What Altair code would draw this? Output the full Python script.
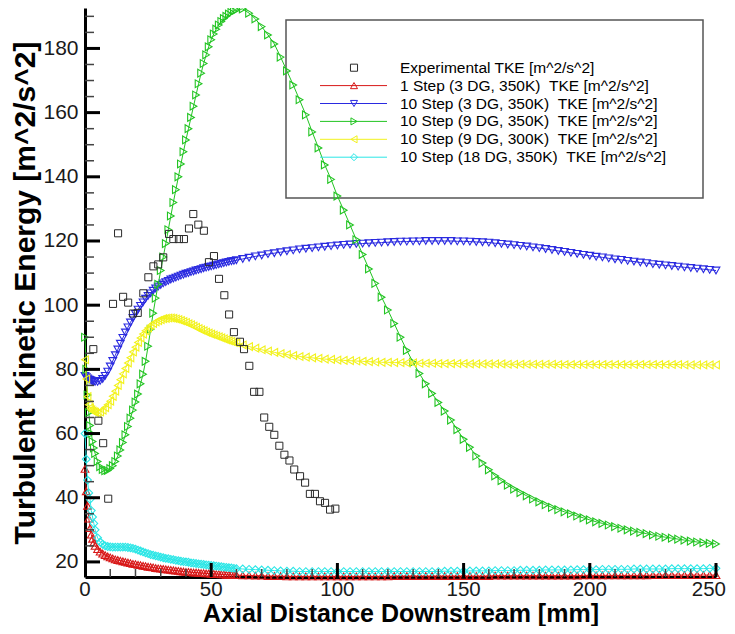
import altair as alt
import pandas as pd

# ---------------- data ----------------
X = [0, 0.5, 1, 1.5, 2, 2.5, 3, 3.5, 4,
     5, 6, 7, 8, 9, 10, 11, 12, 13, 14, 15, 16, 17, 18, 19, 20, 21, 22, 23, 24,
     25, 26, 27, 28, 29, 30, 31, 32, 33, 34, 35, 36, 37, 38, 39, 40, 41, 42, 43, 44,
     45, 46, 47, 48, 49, 50, 51, 52, 53, 54, 55, 56, 57, 58, 59, 60,
     62.5, 65, 67.5, 70, 72.5, 75, 77.5, 80, 82.5, 85, 87.5, 90, 92.5, 95, 97.5, 100,
     102.5, 105, 107.5, 110, 112.5, 115, 117.5, 120, 122.5, 125, 127.5, 130, 132.5, 135,
     137.5, 140, 142.5, 145, 147.5, 150, 152.5, 155, 157.5, 160, 162.5, 165, 167.5, 170,
     172.5, 175, 177.5, 180, 182.5, 185, 187.5, 190, 192.5, 195, 197.5, 200, 202.5, 205,
     207.5, 210, 212.5, 215, 217.5, 220, 222.5, 225, 227.5, 230, 232.5, 235, 237.5, 240,
     242.5, 245, 247.5, 250]

STEP1_3DG_350 = [49.0, 42.0, 37.5, 33.5, 30.5, 28.5, 27.2, 26.0, 25.0,
    24.0, 23.2, 22.6, 22.1, 21.7, 21.4, 21.1, 20.8, 20.6, 20.4,
    20.2, 20.0, 19.8, 19.6, 19.4, 19.3, 19.1, 19.0, 18.8, 18.7,
    18.5, 18.4, 18.3, 18.1, 18.0, 17.9, 17.8, 17.7, 17.6, 17.5,
    17.4, 17.3, 17.2, 17.1, 17.0, 16.9, 16.9, 16.8, 16.7, 16.7,
    16.6, 16.5, 16.5, 16.4, 16.4, 16.3, 16.3, 16.2, 16.2, 16.1,
    16.1, 16.0, 16.0, 16.0, 15.9, 15.9,
    15.8, 15.8, 15.7, 15.7, 15.6, 15.6, 15.6, 15.5, 15.5, 15.5,
    15.5, 15.5, 15.5, 15.5, 15.5, 15.5, 15.5, 15.5, 15.5, 15.5,
    15.5, 15.5, 15.5, 15.5, 15.6, 15.6, 15.6, 15.6, 15.6, 15.6,
    15.6, 15.6, 15.6, 15.6, 15.6, 15.6, 15.6, 15.6, 15.6, 15.6,
    15.7, 15.7, 15.7, 15.7, 15.7, 15.7, 15.7, 15.7, 15.7, 15.7,
    15.7, 15.7, 15.7, 15.7, 15.8, 15.8, 15.8, 15.8, 15.8, 15.8,
    15.8, 15.8, 15.8, 15.8, 15.8, 15.9, 15.9, 15.9, 15.9, 15.9,
    15.9, 15.9, 15.9, 15.9, 15.9, 15.9]

STEP10_3DG_350 = [78.0, 77.6, 77.2, 76.9, 76.7, 76.5, 76.3, 76.2, 76.1,
    76.1, 76.4, 77.0, 78.0, 79.3, 80.9, 82.6, 84.4, 86.2, 88.0,
    89.8, 91.5, 93.1, 94.6, 96.0, 97.3, 98.6, 99.8, 100.9, 102.0,
    102.9, 103.7, 104.5, 105.2, 105.8, 106.3, 106.8, 107.2, 107.6, 108.0,
    108.3, 108.6, 108.9, 109.2, 109.5, 109.8, 110.0, 110.3, 110.5, 110.8,
    111.0, 111.2, 111.5, 111.7, 111.9, 112.1, 112.3, 112.5, 112.7, 112.9,
    113.1, 113.3, 113.5, 113.7, 113.8, 114.0,
    114.4, 114.8, 115.2, 115.5, 115.9, 116.2, 116.5, 116.8, 117.1, 117.4,
    117.6, 117.8, 118.0, 118.2, 118.4, 118.6, 118.8, 118.9, 119.1, 119.2,
    119.3, 119.4, 119.5, 119.6, 119.7, 119.8, 119.8, 119.9, 119.9, 120.0,
    120.0, 120.0, 120.0, 120.0, 119.9, 119.9, 119.8, 119.7, 119.6, 119.5,
    119.3, 119.1, 118.9, 118.7, 118.5, 118.3, 118.0, 117.8, 117.5, 117.2,
    116.9, 116.6, 116.3, 116.0, 115.7, 115.4, 115.1, 114.9, 114.6, 114.3,
    114.1, 113.8, 113.6, 113.3, 113.1, 112.8, 112.6, 112.4, 112.2, 112.0,
    111.8, 111.6, 111.4, 111.2, 111.0, 110.8]

STEP10_9DG_350 = [90.0, 80.0, 72.0, 66.5, 62.5, 60.0, 57.5, 55.5, 53.8,
    51.3, 49.7, 48.8, 48.4, 48.5, 49.1, 50.0, 51.3, 53.0, 54.9,
    57.2, 59.6, 62.2, 64.8, 67.3, 69.8, 72.3, 75.5, 78.5, 82.5,
    87.2, 92.5, 97.5, 102.2, 106.5, 110.8, 115.0, 119.2, 123.5, 127.8,
    132.0, 136.0, 140.0, 144.0, 147.8, 151.5, 155.0, 158.5, 162.0, 165.5,
    169.0, 172.3, 175.3, 178.0, 180.5, 182.7, 184.5, 186.0, 187.3, 188.4,
    189.3, 190.0, 190.7, 191.2, 191.7, 192.0,
    192.3, 191.0, 189.2, 186.8, 184.2, 181.4, 177.3, 173.0, 168.6, 164.0,
    159.3, 154.0, 149.0, 143.7, 139.2, 134.0, 129.6, 125.0, 120.4, 115.8,
    111.3, 106.8, 102.5, 98.5, 94.3, 90.0, 85.9, 82.2, 78.7, 75.5,
    72.5, 69.7, 67.0, 64.2, 61.2, 58.2, 55.7, 53.0, 50.8, 48.7,
    46.8, 45.3, 43.9, 42.7, 41.6, 40.6, 39.6, 38.7, 37.8, 37.0,
    36.3, 35.6, 35.0, 34.3, 33.7, 33.1, 32.5, 32.0, 31.5, 31.0,
    30.5, 30.0, 29.6, 29.2, 28.8, 28.4, 28.0, 27.7, 27.4, 27.1,
    26.8, 26.5, 26.2, 26.0, 25.8, 25.6]

STEP10_9DG_300 = [83.0, 77.0, 71.5, 69.0, 68.0, 67.4, 67.0, 66.8, 66.6,
    66.5, 66.7, 67.3, 68.1, 69.0, 70.1, 71.6, 73.2, 75.0, 76.8,
    78.6, 80.3, 82.0, 83.6, 85.4, 86.9, 88.4, 89.8, 91.0, 92.0,
    92.9, 93.7, 94.3, 94.8, 95.2, 95.5, 95.8, 95.9, 96.0, 96.0,
    95.9, 95.7, 95.5, 95.2, 94.9, 94.6, 94.2, 93.9, 93.5, 93.1,
    92.7, 92.3, 92.0, 91.6, 91.3, 91.0, 90.7, 90.4, 90.1, 89.8,
    89.5, 89.2, 88.9, 88.7, 88.4, 88.2,
    87.6, 87.1, 86.6, 86.1, 85.7, 85.3, 84.9, 84.6, 84.3, 84.0,
    83.8, 83.6, 83.4, 83.2, 83.1, 82.9, 82.8, 82.7, 82.6, 82.5,
    82.4, 82.3, 82.2, 82.2, 82.1, 82.1, 82.0, 82.0, 81.9, 81.9,
    81.9, 81.8, 81.8, 81.8, 81.8, 81.8, 81.7, 81.7, 81.7, 81.7,
    81.7, 81.7, 81.6, 81.6, 81.6, 81.6, 81.6, 81.6, 81.6, 81.6,
    81.5, 81.5, 81.5, 81.5, 81.5, 81.5, 81.5, 81.5, 81.5, 81.5,
    81.5, 81.5, 81.5, 81.5, 81.5, 81.5, 81.5, 81.5, 81.5, 81.5,
    81.4, 81.4, 81.4, 81.4, 81.4, 81.4]

STEP10_18DG_350 = [60.0, 52.0, 45.5, 41.5, 39.5, 36.0, 34.0, 32.0, 30.0,
    27.5, 26.2, 25.5, 25.0, 24.8, 24.7, 24.6, 24.6, 24.6, 24.6,
    24.6, 24.6, 24.5, 24.4, 24.2, 24.0, 23.7, 23.4, 23.1, 22.8,
    22.6, 22.3, 22.1, 21.9, 21.7, 21.5, 21.3, 21.1, 21.0, 20.8,
    20.7, 20.5, 20.4, 20.2, 20.1, 20.0, 19.9, 19.7, 19.6, 19.5,
    19.4, 19.3, 19.2, 19.1, 19.0, 18.9, 18.8, 18.7, 18.6, 18.5,
    18.4, 18.3, 18.2, 18.1, 18.0, 17.9,
    17.8, 17.7, 17.6, 17.5, 17.4, 17.3, 17.2, 17.1, 17.1, 17.0,
    17.0, 17.0, 17.0, 17.0, 17.0, 17.0, 17.0, 17.0, 17.0, 17.0,
    17.0, 17.0, 17.0, 17.0, 17.0, 17.0, 17.0, 17.0, 17.0, 17.0,
    17.0, 17.0, 17.1, 17.1, 17.1, 17.1, 17.2, 17.2, 17.2, 17.2,
    17.3, 17.3, 17.3, 17.3, 17.4, 17.4, 17.4, 17.4, 17.5, 17.5,
    17.5, 17.5, 17.5, 17.6, 17.6, 17.6, 17.6, 17.7, 17.7, 17.7,
    17.7, 17.7, 17.8, 17.8, 17.8, 17.8, 17.8, 17.8, 17.9, 17.9,
    17.9, 17.9, 17.9, 17.9, 18.0, 18.0]

EXP_X = [3.3, 5.3, 7.2, 9.2, 11.1, 13.1, 15.1, 17.1, 19.0, 20.9, 23.1, 25.1, 27.1,
         29.0, 31.0, 33.3, 35.0, 37.2, 39.2, 41.2, 42.9, 44.9, 47.1, 49.1, 51.1,
         53.1, 55.2, 57.1, 59.0, 61.4, 63.0, 65.1, 67.0, 69.1, 71.0, 73.0, 75.0,
         77.0, 79.0, 81.0, 82.9, 85.2, 87.2, 89.1, 91.1, 93.1, 95.1, 97.1, 99.2]
EXP_Y = [86.3, 64.0, 57.0, 39.7, 100.4, 122.4, 102.6, 100.8, 97.4, 97.6, 103.7, 108.7,
         112.1, 112.7, 114.9, 122.2, 120.6, 120.6, 120.6, 123.9, 128.4, 125.1, 123.2,
         113.4, 115.3, 108.2, 103.1, 97.1, 91.6, 88.6, 86.3, 81.1, 73.0, 73.0, 65.0,
         62.1, 59.6, 56.2, 53.4, 51.6, 48.8, 46.7, 44.7, 41.2, 41.2, 38.9, 38.4, 36.3,
         36.6]

LABELS = ["Experimental TKE [m^2/s^2]",
          "1 Step (3 DG, 350K)  TKE [m^2/s^2]",
          "10 Step (3 DG, 350K)  TKE [m^2/s^2]",
          "10 Step (9 DG, 350K)  TKE [m^2/s^2]",
          "10 Step (9 DG, 300K)  TKE [m^2/s^2]",
          "10 Step (18 DG, 350K)  TKE [m^2/s^2]"]
COLORS = ["#2a2a2a", "#d81818", "#2a2ae0", "#22c422", "#f2f21c", "#2ae6e6"]
SHAPES = ["square", "triangle-up", "triangle-down", "triangle-right", "triangle-left", "diamond"]

X_LABELS = [0, 50, 100, 150, 200]
X_LAST_LABEL = [250]
X_MAJOR = [50, 100, 150, 200, 250]
X_MINOR = [10, 20, 30, 40, 60, 70, 80, 90, 110, 120, 130, 140, 160, 170, 180, 190,
           210, 220, 230, 240]
Y_MAJOR = [20, 40, 60, 80, 100, 120, 140, 160, 180]
Y_MINOR = [25, 30, 35, 45, 50, 55, 65, 70, 75, 85, 90, 95, 105, 110, 115, 125, 130,
           135, 145, 150, 155, 165, 170, 175, 185, 190]

SIM_SERIES = [STEP1_3DG_350, STEP10_3DG_350, STEP10_9DG_350, STEP10_9DG_300, STEP10_18DG_350]
for s in SIM_SERIES:
    assert len(s) == len(X), len(s)
assert len(EXP_X) == len(EXP_Y)

# ---------------- layout ----------------
W, H = 631, 569
FONT = "Liberation Sans"
xs = alt.Scale(domain=[0, 250], nice=False, zero=False)
ys = alt.Scale(domain=[15.3, 192.6], nice=False, zero=False)

x_axis = alt.Axis(values=[0, 50, 100, 150, 200, 250], ticks=False, grid=False, labels=False,
                  domainColor="black", domainWidth=3,
                  title="Axial Distance Downstream [mm]", titleFont=FONT,
                  titleFontSize=25, titleFontWeight="bold", titleColor="black",
                  titleBaseline="alphabetic", titleY=44)
y_axis = alt.Axis(values=Y_MAJOR, ticks=False, grid=False, domainColor="black",
                  domainWidth=3, labelFont=FONT, labelFontSize=21, labelColor="#1a1a1a",
                  labelPadding=7, labelFlush=False, format="d",
                  title="Turbulent Kinetic Energy [m^2/s^2]", titleFont=FONT,
                  titleFontSize=30, titleFontWeight="bold", titleColor="black",
                  titlePadding=2)


def X_(field):
    return alt.X(field, scale=xs, axis=x_axis)


def Y_(field):
    return alt.Y(field, scale=ys, axis=y_axis)


one = pd.DataFrame({"a": [0]})
layers = []

# legend box (drawn first, under the data)
layers.append(alt.Chart(one).mark_rect(fillOpacity=0, stroke="#555555", strokeWidth=1.5).encode(
    x=alt.value(201), x2=alt.value(618), y=alt.value(12), y2=alt.value(190)))

# simulation series
for i, ys_vals in enumerate(SIM_SERIES):
    df = pd.DataFrame({"x": X, "y": ys_vals})
    base = alt.Chart(df)
    layers.append(base.mark_line(color=COLORS[i + 1], strokeWidth=1).encode(
        x=X_("x:Q"), y=Y_("y:Q")))
    layers.append(base.mark_point(shape=SHAPES[i + 1], filled=False, color=COLORS[i + 1],
                                  size=60, strokeWidth=1.1, opacity=1).encode(
        x=X_("x:Q"), y=Y_("y:Q")))

# experimental points
exp_df = pd.DataFrame({"x": EXP_X, "y": EXP_Y})
layers.append(alt.Chart(exp_df).mark_point(shape="square", filled=False, color=COLORS[0],
                                           size=50, strokeWidth=1, opacity=1).encode(
    x=X_("x:Q"), y=Y_("y:Q")))

# inward tick marks
layers.append(alt.Chart(pd.DataFrame({"y": Y_MAJOR})).mark_rule(color="black", strokeWidth=3).encode(
    y=Y_("y:Q"), x=alt.value(0), x2=alt.value(15)))
layers.append(alt.Chart(pd.DataFrame({"y": Y_MINOR})).mark_rule(color="#444444", strokeWidth=1.5).encode(
    y=Y_("y:Q"), x=alt.value(0), x2=alt.value(9)))
layers.append(alt.Chart(pd.DataFrame({"x": X_MAJOR})).mark_rule(color="black", strokeWidth=3).encode(
    x=X_("x:Q"), y=alt.value(H), y2=alt.value(H - 14)))
layers.append(alt.Chart(pd.DataFrame({"x": X_MINOR})).mark_rule(color="#444444", strokeWidth=1.5).encode(
    x=X_("x:Q"), y=alt.value(H), y2=alt.value(H - 8)))

# x tick labels (last one kept inside the page edge)
layers.append(alt.Chart(pd.DataFrame({"x": X_LABELS})).mark_text(
    align="center", baseline="top", font=FONT, fontSize=20.5, color="#1a1a1a").encode(
    x=X_("x:Q"), y=alt.value(H + 3), text=alt.Text("x:Q", format="d")))
layers.append(alt.Chart(pd.DataFrame({"x": X_LAST_LABEL})).mark_text(
    align="right", baseline="top", font=FONT, fontSize=20.5, color="#1a1a1a", dx=10).encode(
    x=X_("x:Q"), y=alt.value(H + 3), text=alt.Text("x:Q", format="d")))

# legend entries
for r, label in enumerate(LABELS):
    py = 59.7 + 17.9 * r
    if r > 0:
        layers.append(alt.Chart(one).mark_rule(color=COLORS[r], strokeWidth=1).encode(
            x=alt.value(235), x2=alt.value(302), y=alt.value(py)))
    layers.append(alt.Chart(one).mark_point(shape=SHAPES[r], filled=False, color=COLORS[r],
                                            size=50, strokeWidth=1, opacity=1).encode(
        x=alt.value(269), y=alt.value(py)))
    layers.append(alt.Chart(one).mark_text(align="left", baseline="middle", font=FONT,
                                           fontSize=15.5, color="black").encode(
        x=alt.value(315), y=alt.value(py), text=alt.value(label.replace("  ", " \u00a0"))))

chart = alt.layer(*layers).properties(
    width=W, height=H,
    autosize=alt.AutoSizeParams(type="none"),
    padding={"left": 77, "top": 0, "right": 11, "bottom": 49},
    background="white",
).configure_view(stroke=None)

chart.save("out.html", embed_options={"renderer": "svg", "actions": False})
